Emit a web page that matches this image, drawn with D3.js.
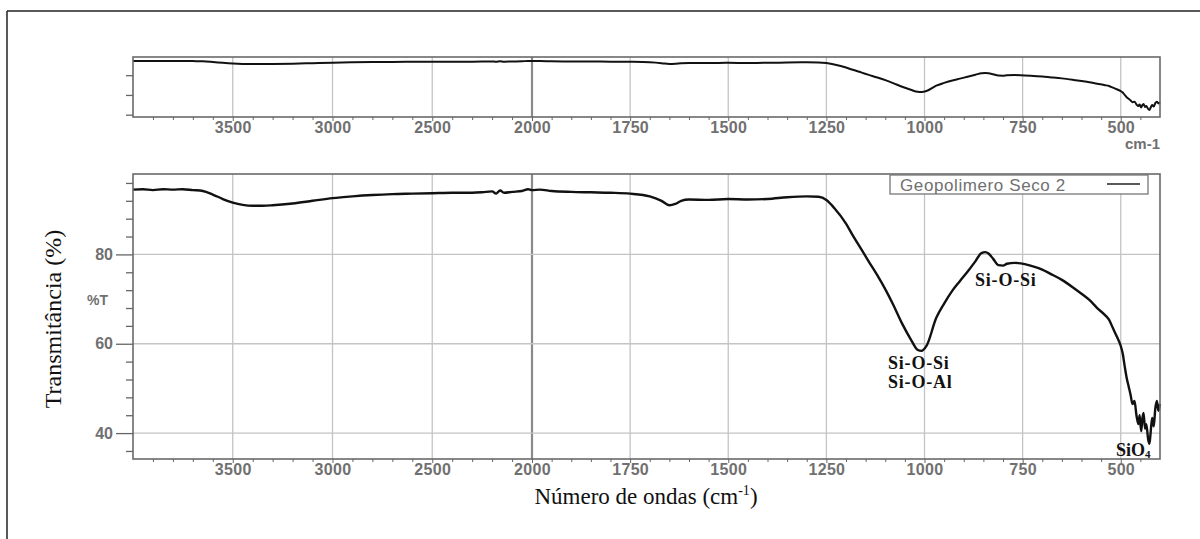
<!DOCTYPE html>
<html><head><meta charset="utf-8">
<script src="https://cdn.jsdelivr.net/npm/d3@7"></script>
<style>
html,body{margin:0;padding:0;background:#fff;}
svg{display:block;}
</style></head>
<body>
<svg id="chart" width="1200" height="539"></svg>
<script>
// ---- data ----
const wavenumber = [4000,3950,3900,3850,3800,3750,3700,3650,3600,3550,3500,3450,3400,3350,3300,3200,3100,3000,2900,2800,2700,2600,2500,2400,2300,2250,2200,2180,2160,2140,2100,2050,2020,2000,1980,1950,1900,1850,1800,1750,1700,1670,1650,1635,1620,1600,1550,1500,1450,1400,1350,1300,1270,1250,1230,1200,1185,1160,1142,1120,1098,1080,1057,1035,1017,1008,995,970,950,929,910,888,870,855,845,837,825,812,800,790,770,755,730,700,680,650,620,600,580,560,540,530,520,510,500,495,490,485,480,475,470,465,460,455,452,448,445,442,438,435,430,427,424,420,416,412,408,404,400];
const transmittance = [94.5,94.6,94.4,94.6,94.5,94.6,94.4,94.2,93.4,92.4,91.6,91.1,90.9,90.9,91.0,91.4,92.0,92.6,93.0,93.3,93.5,93.6,93.7,93.8,93.8,93.9,94.1,93.6,94.3,93.8,94.0,94.2,94.6,94.4,94.5,94.2,94.0,93.9,93.8,93.6,93.0,92.0,91.0,91.3,92.0,92.3,92.2,92.4,92.3,92.4,92.8,93.0,92.9,92.2,90.4,86.9,84.6,81.0,78.4,75.3,71.9,68.8,64.5,61.0,58.6,58.4,59.5,65.8,69.0,71.9,74.0,76.4,78.5,80.3,80.5,80.2,79.0,77.6,77.5,77.9,78.1,78.0,77.5,76.6,75.7,74.3,72.5,71.2,69.8,68.0,66.4,65.4,63.5,61.6,59.5,57.8,55.0,52.4,50.5,48.6,46.5,47.2,44.0,42.0,44.0,40.4,43.2,44.5,41.0,42.0,38.5,37.6,40.0,43.4,41.5,45.5,47.2,45.0,46.5];
const xMajorTicks = [3500,3000,2500,2000,1750,1500,1250,1000,750,500];
const xMinorTicks = [3900,3800,3700,3600,3400,3300,3200,3100,2900,2800,2700,2600,2400,2300,2200,2100,
  1950,1900,1850,1800,1700,1650,1600,1550,1450,1400,1350,1300,1200,1150,1100,1050,950,900,850,800,700,650,600,550,450];
const yMajorTicks = [80,60,40];
const yMinorTicks = [36,44,48,52,56,64,68,72,76,84,88,92,96];
const topYTicks = [78,55,32];
const seriesName = "Geopolimero Seco 2";
const bandLabels = ["Si-O-Si","Si-O-Al","Si-O-Si","SiO"];

const data = wavenumber.map((w,i)=>({w, t:transmittance[i]}));
const svg = d3.select("#chart");

// outer frame (partially visible)
svg.append("line").attr("x1",7).attr("y1",11).attr("x2",1200).attr("y2",11).attr("stroke","#222").attr("stroke-width",1.5);
svg.append("line").attr("x1",7).attr("y1",11).attr("x2",7).attr("y2",539).attr("stroke","#222").attr("stroke-width",1.5);

const L = 133, R = 1160;
const x = d3.scaleLinear().domain([4000,2000,400]).range([L,532,R]);

const gridCol = "#c4c4c4", tickCol = "#666", labCol = "#707070";
const tickFont = "'Liberation Sans', Arial, sans-serif";

function panel(top, bottom, y, opts){
  const g = svg.append("g");
  g.selectAll("line.vg").data(xMajorTicks).enter().append("line")
    .attr("x1",d=>x(d)).attr("x2",d=>x(d)).attr("y1",top).attr("y2",bottom)
    .attr("stroke",d=>d===2000?"#8a8a8a":gridCol).attr("stroke-width",d=>d===2000?2.2:1.3);
  if(opts.hgrid){
    g.selectAll("line.hg").data(yMajorTicks).enter().append("line")
      .attr("x1",L).attr("x2",R).attr("y1",d=>y(d)).attr("y2",d=>y(d))
      .attr("stroke",gridCol).attr("stroke-width",1.3);
  }
  const line = d3.line().x(d=>x(d.w)).y(d=>y(d.t)).curve(d3.curveMonotoneX);
  g.append("path").datum(data).attr("d",line).attr("fill","none")
    .attr("stroke","#111").attr("stroke-width",opts.sw).attr("stroke-linejoin","round");
  g.append("rect").attr("x",L).attr("y",top).attr("width",R-L).attr("height",bottom-top)
    .attr("fill","none").attr("stroke","#6a6a6a").attr("stroke-width",1.6);
  const xa = d3.axisBottom(x).tickValues(xMajorTicks).tickSize(4).tickFormat(d3.format("d"));
  const gx = g.append("g").attr("transform",`translate(0,${bottom})`).call(xa);
  gx.select(".domain").remove();
  gx.selectAll(".tick line").attr("stroke",tickCol);
  gx.selectAll(".tick text").attr("fill",labCol).attr("font-size",16).attr("font-family",tickFont)
    .attr("font-weight","bold").attr("dy","0.55em").attr("letter-spacing","0.3px");
  const xm = d3.axisBottom(x).tickValues(xMinorTicks).tickSize(3).tickFormat("");
  const gxm = g.append("g").attr("transform",`translate(0,${bottom})`).call(xm);
  gxm.select(".domain").remove();
  gxm.selectAll(".tick line").attr("stroke",tickCol);
  const ya = d3.axisLeft(y).tickValues(opts.yMajor).tickSize(opts.labels?17:7)
    .tickFormat(opts.labels?d3.format("d"):"");
  const gy = g.append("g").attr("transform",`translate(${L},0)`).call(ya);
  gy.select(".domain").remove();
  gy.selectAll(".tick line").attr("stroke",tickCol).attr("stroke-width",1.3);
  gy.selectAll(".tick text").attr("fill",labCol).attr("font-size",16).attr("font-family",tickFont).attr("font-weight","bold");
  if(opts.yMinor.length){
    const ym = d3.axisLeft(y).tickValues(opts.yMinor).tickSize(7).tickFormat("");
    const gym = g.append("g").attr("transform",`translate(${L},0)`).call(ym);
    gym.select(".domain").remove();
    gym.selectAll(".tick line").attr("stroke",tickCol).attr("stroke-width",1.3);
  }
  return g;
}

// top overview panel
const yTop = d3.scaleLinear().domain([29.3,99.2]).range([117,57]);
panel(57,117,yTop,{hgrid:false, sw:2, yMajor:topYTicks, yMinor:[], labels:false});
svg.append("text").attr("x",1160).attr("y",149).attr("text-anchor","end")
  .attr("fill",labCol).attr("font-size",15).attr("font-weight","bold").attr("font-family",tickFont).text("cm-1");

// main panel
const y = d3.scaleLinear().domain([34.2,98]).range([459,174]);
panel(174,459,y,{hgrid:true, sw:2.4, yMajor:yMajorTicks, yMinor:yMinorTicks, labels:true});
svg.append("text").attr("x",108).attr("y",305).attr("text-anchor","end")
  .attr("fill",labCol).attr("font-size",14).attr("font-weight","bold").attr("font-family",tickFont).text("%T");

// legend
const lg = svg.append("g");
lg.append("rect").attr("x",890).attr("y",175).attr("width",258).attr("height",19)
  .attr("fill","#fff").attr("stroke","#777").attr("stroke-width",1.3);
lg.append("text").attr("x",900).attr("y",190.5).attr("fill","#707070").attr("font-size",17)
  .attr("letter-spacing","0.6px").attr("font-family",tickFont).text(seriesName);
lg.append("line").attr("x1",1107).attr("x2",1140).attr("y1",184).attr("y2",184).attr("stroke","#222").attr("stroke-width",1.3);

// annotations
const serif = "'Liberation Serif', 'Times New Roman', serif";
function ann(px, py, txt){
  return svg.append("text").attr("x",px).attr("y",py).attr("font-family",serif).attr("font-weight","bold")
    .attr("font-size",18).attr("letter-spacing","0.8px").attr("fill","#111").text(txt);
}
ann(888,369,bandLabels[0]);
ann(888,388,bandLabels[1]);
ann(975,286,bandLabels[2]);
const sio = svg.append("text").attr("x",1116).attr("y",456).attr("font-family",serif).attr("font-weight","bold")
  .attr("font-size",18).attr("fill","#111");
sio.append("tspan").text(bandLabels[3]);
sio.append("tspan").attr("font-size",11).attr("dy",2).text("4");

// axis titles
svg.append("text").attr("transform","translate(61,319) rotate(-90)").attr("text-anchor","middle")
  .attr("font-family",serif).attr("font-size",24).attr("fill","#111").text("Transmitância (%)");
const xt = svg.append("text").attr("x",646).attr("y",504).attr("text-anchor","middle")
  .attr("font-family",serif).attr("font-size",23).attr("fill","#111");
xt.append("tspan").text("Número de ondas (cm");
xt.append("tspan").attr("font-size",14).attr("dy",-9).text("-1");
xt.append("tspan").attr("dy",9).text(")");
</script>
</body></html>
